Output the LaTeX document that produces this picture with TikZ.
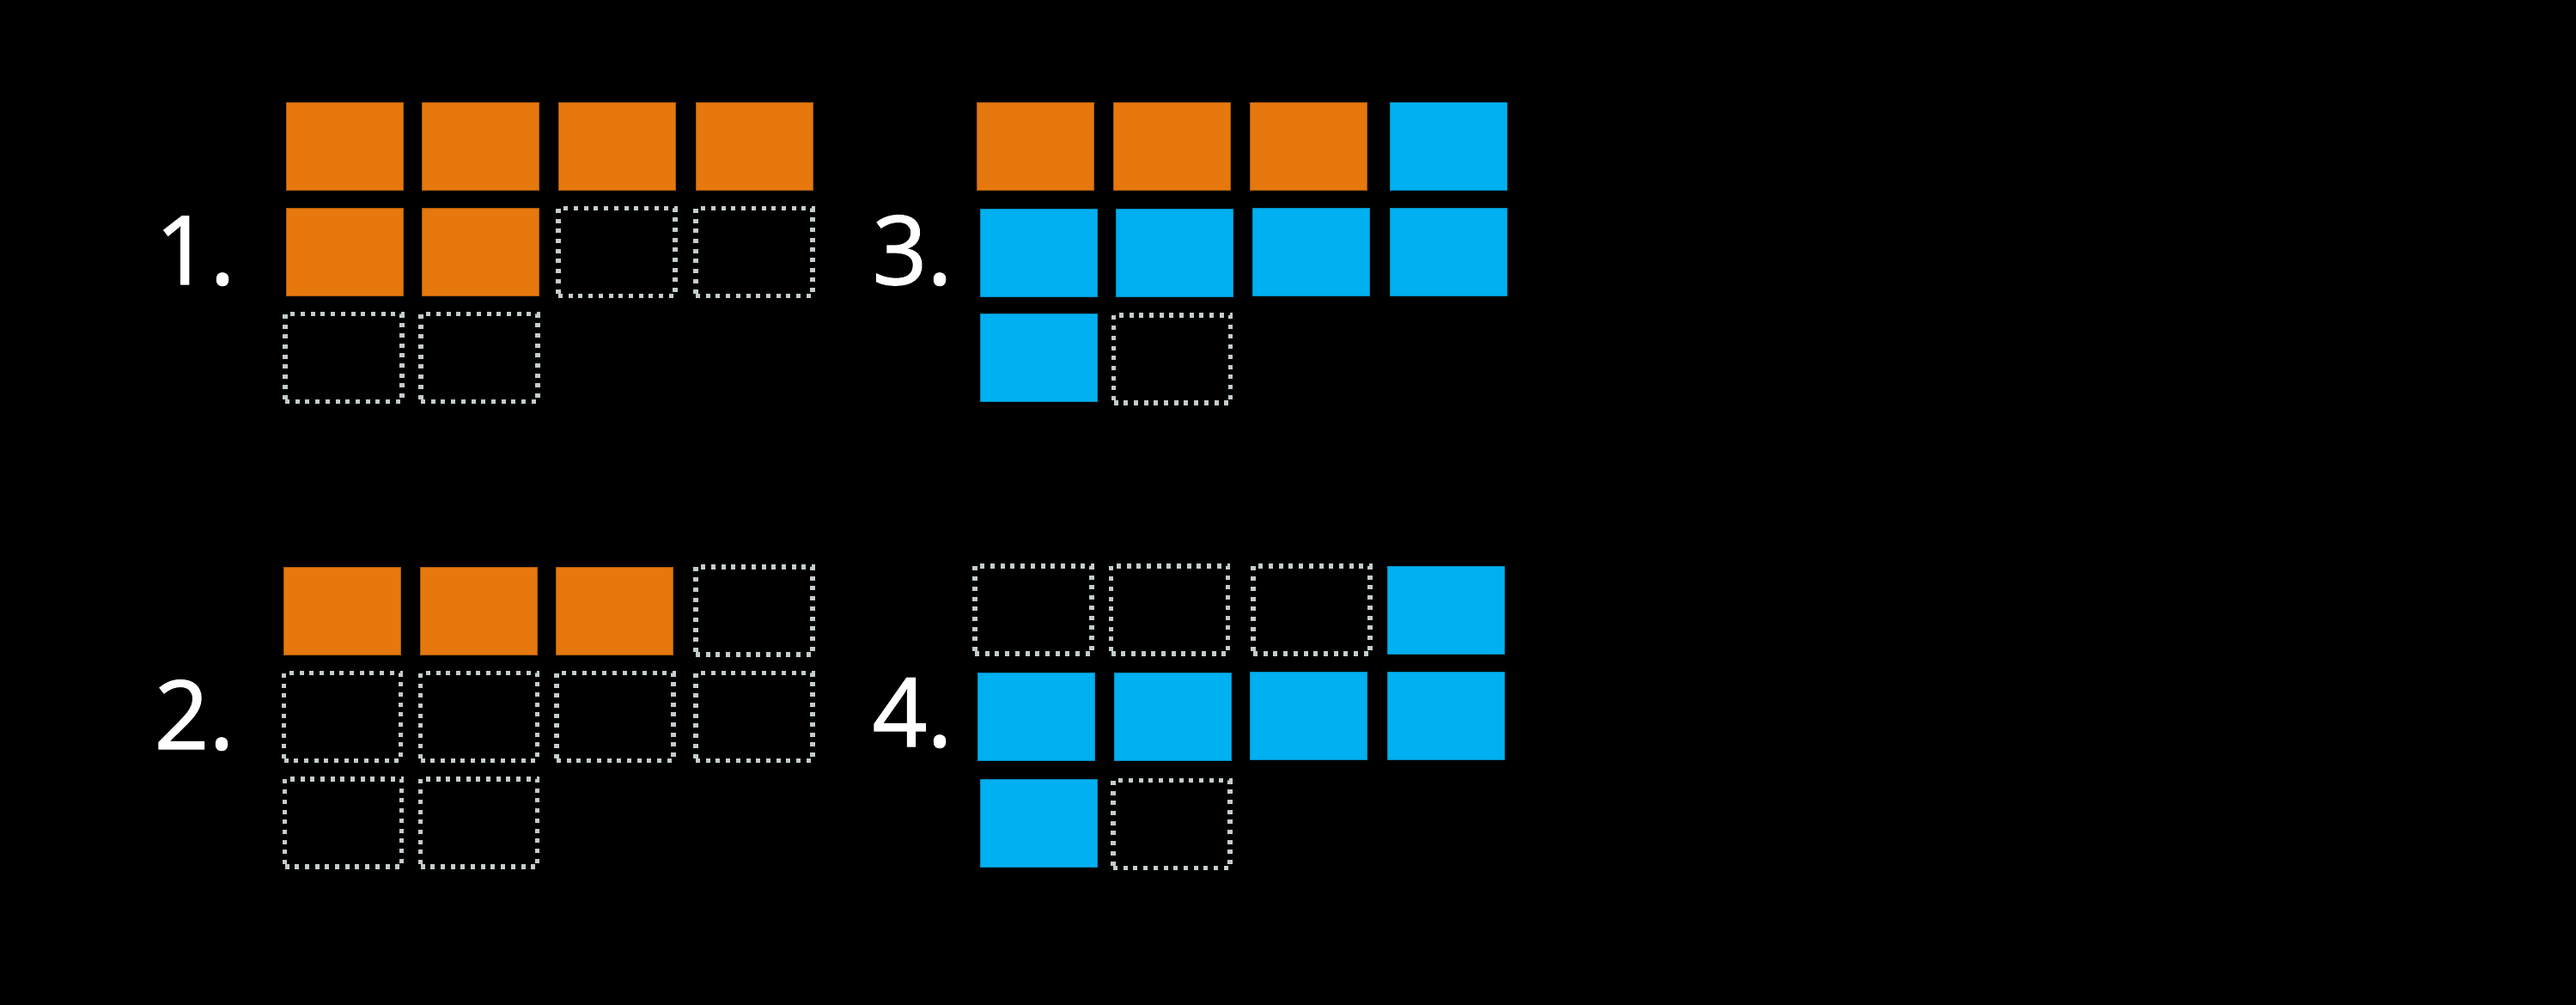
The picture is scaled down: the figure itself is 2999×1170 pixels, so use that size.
\documentclass[tikz,border=0pt]{standalone}
\usepackage{fontspec}
\setmainfont{Open Sans}
\newfontfamily\labfont{Open Sans}[FakeBold=1.3]
\definecolor{boxorange}{RGB}{230,120,14}
\definecolor{boxblue}{RGB}{0,176,240}
\definecolor{dotgrey}{RGB}{196,204,204}
\begin{document}
\begin{tikzpicture}[x=1pt,y=-1pt,
  cell/.style={minimum width=136pt,minimum height=102pt,inner sep=0pt,outer sep=0pt},
  obox/.style={cell,fill=boxorange,draw=boxorange!75!black,line width=0.8pt},
  bbox/.style={cell,fill=boxblue,draw=boxblue!80!black,line width=0.8pt},
  ebox/.style={cell,draw=dotgrey,line width=5.5pt,dash pattern=on 5pt off 6.7pt},
  numlabel/.style={text=white,font=\labfont\fontsize{111}{120}\selectfont,inner sep=0pt,anchor=base east}]
\useasboundingbox[fill=black] (0,0) rectangle (2999,1170);
% panel 1
\node[numlabel] (l1) at (274,331) {1.};
\node[obox] (a11) at (401,170) {};
\node[obox] (a12) at (559,170) {};
\node[obox] (a13) at (718,170) {};
\node[obox] (a14) at (878,170) {};
\node[obox] (a21) at (401,293.5) {};
\node[obox] (a22) at (559,293.5) {};
\node[ebox] (a23) at (718,293.5) {};
\node[ebox] (a24) at (878,293.5) {};
\node[ebox] (a31) at (400,416.5) {};
\node[ebox] (a32) at (558,416.5) {};
% panel 2
\node[numlabel] (l2) at (273,872) {2.};
\node[obox] (b11) at (398,711.5) {};
\node[obox] (b12) at (557,711.5) {};
\node[obox] (b13) at (715,711.5) {};
\node[ebox] (b14) at (878,711) {};
\node[ebox] (b21) at (398.5,834.5) {};
\node[ebox] (b22) at (557.5,834.5) {};
\node[ebox] (b23) at (716,834.5) {};
\node[ebox] (b24) at (878,834.5) {};
\node[ebox] (b31) at (399.5,958) {};
\node[ebox] (b32) at (557.5,958) {};
% panel 3
\node[numlabel] (l3) at (1109,331) {3.};
\node[obox] (c11) at (1205,170) {};
\node[obox] (c12) at (1364,170) {};
\node[obox] (c13) at (1523.5,170) {};
\node[bbox] (c14) at (1686,170) {};
\node[bbox] (c21) at (1209,294.5) {};
\node[bbox] (c22) at (1367.5,294.5) {};
\node[bbox] (c23) at (1526.5,293.5) {};
\node[bbox] (c24) at (1686,293.5) {};
\node[bbox] (c31) at (1209,416.5) {};
\node[ebox] (c32) at (1364.5,418) {};
% panel 4
\node[numlabel] (l4) at (1109,869) {4.};
\node[ebox] (d11) at (1203,710) {};
\node[ebox] (d12) at (1361.5,710) {};
\node[ebox] (d13) at (1527,710) {};
\node[bbox] (d14) at (1683,710.5) {};
\node[bbox] (d21) at (1206,834.5) {};
\node[bbox] (d22) at (1365,834.5) {};
\node[bbox] (d23) at (1523.5,833.5) {};
\node[bbox] (d24) at (1683,833.5) {};
\node[bbox] (d31) at (1209,958.5) {};
\node[ebox] (d32) at (1364,959.5) {};
\end{tikzpicture}
\end{document}
